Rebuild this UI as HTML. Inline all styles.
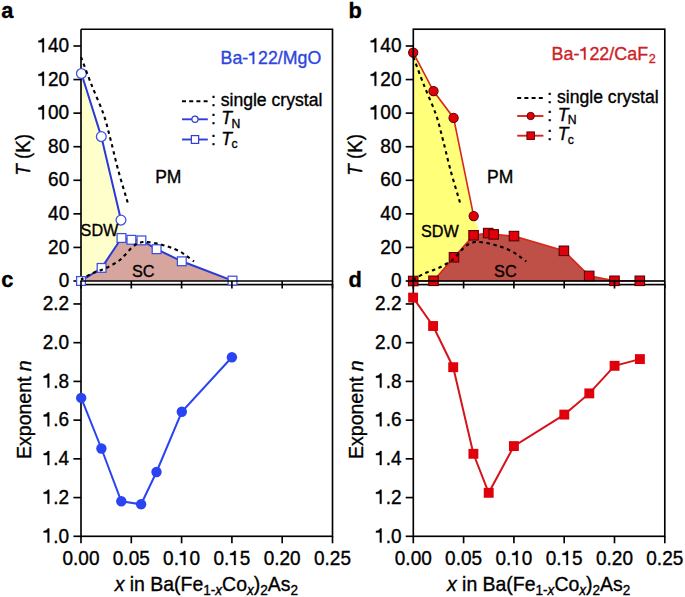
<!DOCTYPE html><html><head><meta charset="utf-8"><title>Phase diagram</title>
<style>html,body{margin:0;padding:0;background:#fff;}body{width:685px;height:597px;overflow:hidden;}svg{display:block;font-family:"Liberation Sans", sans-serif;}text{stroke:#000;stroke-width:0.35px;font-kerning:none;}</style></head><body>
<svg width="685" height="597" viewBox="0 0 685 597">
<rect width="685" height="597" fill="#fff"/>
<rect x="81" y="284.6" width="251.5" height="251.7" fill="none" stroke="#000" stroke-width="1.65"/>
<line x1="81" y1="536.3" x2="81" y2="543.3" stroke="#000" stroke-width="1.65"/>
<text transform="translate(62.51,564.9) scale(1,1.07)" font-size="19">0.00</text>
<line x1="131.3" y1="536.3" x2="131.3" y2="543.3" stroke="#000" stroke-width="1.65"/>
<text transform="translate(112.81,564.9) scale(1,1.07)" font-size="19">0.05</text>
<line x1="181.6" y1="536.3" x2="181.6" y2="543.3" stroke="#000" stroke-width="1.65"/>
<text transform="translate(163.11,564.9) scale(1,1.07)" font-size="19">0. 0</text>
<path transform="translate(178.96,564.9) scale(0.009277,-0.009927)" d="M515 0L696 0L696 1409L540 1409C480 1280 300 1175 95 1160L95 1000L515 1000Z" fill="#000" stroke="#000" stroke-width="0.35" vector-effect="non-scaling-stroke"/>
<line x1="231.9" y1="536.3" x2="231.9" y2="543.3" stroke="#000" stroke-width="1.65"/>
<text transform="translate(213.41,564.9) scale(1,1.07)" font-size="19">0. 5</text>
<path transform="translate(229.26,564.9) scale(0.009277,-0.009927)" d="M515 0L696 0L696 1409L540 1409C480 1280 300 1175 95 1160L95 1000L515 1000Z" fill="#000" stroke="#000" stroke-width="0.35" vector-effect="non-scaling-stroke"/>
<line x1="282.2" y1="536.3" x2="282.2" y2="543.3" stroke="#000" stroke-width="1.65"/>
<text transform="translate(263.71,564.9) scale(1,1.07)" font-size="19">0.20</text>
<line x1="332.5" y1="536.3" x2="332.5" y2="543.3" stroke="#000" stroke-width="1.65"/>
<text transform="translate(314.01,564.9) scale(1,1.07)" font-size="19">0.25</text>
<line x1="73.4" y1="536.3" x2="81" y2="536.3" stroke="#000" stroke-width="1.65"/>
<text transform="translate(42.79,542.5) scale(1,1.07)" font-size="19"> .0</text>
<path transform="translate(42.79,542.5) scale(0.009277,-0.009927)" d="M515 0L696 0L696 1409L540 1409C480 1280 300 1175 95 1160L95 1000L515 1000Z" fill="#000" stroke="#000" stroke-width="0.35" vector-effect="non-scaling-stroke"/>
<line x1="73.4" y1="497.58" x2="81" y2="497.58" stroke="#000" stroke-width="1.65"/>
<text transform="translate(42.79,503.78) scale(1,1.07)" font-size="19"> .2</text>
<path transform="translate(42.79,503.78) scale(0.009277,-0.009927)" d="M515 0L696 0L696 1409L540 1409C480 1280 300 1175 95 1160L95 1000L515 1000Z" fill="#000" stroke="#000" stroke-width="0.35" vector-effect="non-scaling-stroke"/>
<line x1="73.4" y1="458.85" x2="81" y2="458.85" stroke="#000" stroke-width="1.65"/>
<text transform="translate(42.79,465.05) scale(1,1.07)" font-size="19"> .4</text>
<path transform="translate(42.79,465.05) scale(0.009277,-0.009927)" d="M515 0L696 0L696 1409L540 1409C480 1280 300 1175 95 1160L95 1000L515 1000Z" fill="#000" stroke="#000" stroke-width="0.35" vector-effect="non-scaling-stroke"/>
<line x1="73.4" y1="420.13" x2="81" y2="420.13" stroke="#000" stroke-width="1.65"/>
<text transform="translate(42.79,426.33) scale(1,1.07)" font-size="19"> .6</text>
<path transform="translate(42.79,426.33) scale(0.009277,-0.009927)" d="M515 0L696 0L696 1409L540 1409C480 1280 300 1175 95 1160L95 1000L515 1000Z" fill="#000" stroke="#000" stroke-width="0.35" vector-effect="non-scaling-stroke"/>
<line x1="73.4" y1="381.41" x2="81" y2="381.41" stroke="#000" stroke-width="1.65"/>
<text transform="translate(42.79,387.61) scale(1,1.07)" font-size="19"> .8</text>
<path transform="translate(42.79,387.61) scale(0.009277,-0.009927)" d="M515 0L696 0L696 1409L540 1409C480 1280 300 1175 95 1160L95 1000L515 1000Z" fill="#000" stroke="#000" stroke-width="0.35" vector-effect="non-scaling-stroke"/>
<line x1="73.4" y1="342.68" x2="81" y2="342.68" stroke="#000" stroke-width="1.65"/>
<text transform="translate(42.79,348.88) scale(1,1.07)" font-size="19">2.0</text>
<line x1="73.4" y1="303.96" x2="81" y2="303.96" stroke="#000" stroke-width="1.65"/>
<text transform="translate(42.79,310.16) scale(1,1.07)" font-size="19">2.2</text>
<rect x="413.3" y="284.6" width="251.5" height="251.7" fill="none" stroke="#000" stroke-width="1.65"/>
<line x1="413.3" y1="536.3" x2="413.3" y2="543.3" stroke="#000" stroke-width="1.65"/>
<text transform="translate(394.81,564.9) scale(1,1.07)" font-size="19">0.00</text>
<line x1="463.6" y1="536.3" x2="463.6" y2="543.3" stroke="#000" stroke-width="1.65"/>
<text transform="translate(445.11,564.9) scale(1,1.07)" font-size="19">0.05</text>
<line x1="513.9" y1="536.3" x2="513.9" y2="543.3" stroke="#000" stroke-width="1.65"/>
<text transform="translate(495.41,564.9) scale(1,1.07)" font-size="19">0. 0</text>
<path transform="translate(511.26,564.9) scale(0.009277,-0.009927)" d="M515 0L696 0L696 1409L540 1409C480 1280 300 1175 95 1160L95 1000L515 1000Z" fill="#000" stroke="#000" stroke-width="0.35" vector-effect="non-scaling-stroke"/>
<line x1="564.2" y1="536.3" x2="564.2" y2="543.3" stroke="#000" stroke-width="1.65"/>
<text transform="translate(545.71,564.9) scale(1,1.07)" font-size="19">0. 5</text>
<path transform="translate(561.56,564.9) scale(0.009277,-0.009927)" d="M515 0L696 0L696 1409L540 1409C480 1280 300 1175 95 1160L95 1000L515 1000Z" fill="#000" stroke="#000" stroke-width="0.35" vector-effect="non-scaling-stroke"/>
<line x1="614.5" y1="536.3" x2="614.5" y2="543.3" stroke="#000" stroke-width="1.65"/>
<text transform="translate(596.01,564.9) scale(1,1.07)" font-size="19">0.20</text>
<line x1="664.8" y1="536.3" x2="664.8" y2="543.3" stroke="#000" stroke-width="1.65"/>
<text transform="translate(646.31,564.9) scale(1,1.07)" font-size="19">0.25</text>
<line x1="405.7" y1="536.3" x2="413.3" y2="536.3" stroke="#000" stroke-width="1.65"/>
<text transform="translate(375.09,542.5) scale(1,1.07)" font-size="19"> .0</text>
<path transform="translate(375.09,542.5) scale(0.009277,-0.009927)" d="M515 0L696 0L696 1409L540 1409C480 1280 300 1175 95 1160L95 1000L515 1000Z" fill="#000" stroke="#000" stroke-width="0.35" vector-effect="non-scaling-stroke"/>
<line x1="405.7" y1="497.58" x2="413.3" y2="497.58" stroke="#000" stroke-width="1.65"/>
<text transform="translate(375.09,503.78) scale(1,1.07)" font-size="19"> .2</text>
<path transform="translate(375.09,503.78) scale(0.009277,-0.009927)" d="M515 0L696 0L696 1409L540 1409C480 1280 300 1175 95 1160L95 1000L515 1000Z" fill="#000" stroke="#000" stroke-width="0.35" vector-effect="non-scaling-stroke"/>
<line x1="405.7" y1="458.85" x2="413.3" y2="458.85" stroke="#000" stroke-width="1.65"/>
<text transform="translate(375.09,465.05) scale(1,1.07)" font-size="19"> .4</text>
<path transform="translate(375.09,465.05) scale(0.009277,-0.009927)" d="M515 0L696 0L696 1409L540 1409C480 1280 300 1175 95 1160L95 1000L515 1000Z" fill="#000" stroke="#000" stroke-width="0.35" vector-effect="non-scaling-stroke"/>
<line x1="405.7" y1="420.13" x2="413.3" y2="420.13" stroke="#000" stroke-width="1.65"/>
<text transform="translate(375.09,426.33) scale(1,1.07)" font-size="19"> .6</text>
<path transform="translate(375.09,426.33) scale(0.009277,-0.009927)" d="M515 0L696 0L696 1409L540 1409C480 1280 300 1175 95 1160L95 1000L515 1000Z" fill="#000" stroke="#000" stroke-width="0.35" vector-effect="non-scaling-stroke"/>
<line x1="405.7" y1="381.41" x2="413.3" y2="381.41" stroke="#000" stroke-width="1.65"/>
<text transform="translate(375.09,387.61) scale(1,1.07)" font-size="19"> .8</text>
<path transform="translate(375.09,387.61) scale(0.009277,-0.009927)" d="M515 0L696 0L696 1409L540 1409C480 1280 300 1175 95 1160L95 1000L515 1000Z" fill="#000" stroke="#000" stroke-width="0.35" vector-effect="non-scaling-stroke"/>
<line x1="405.7" y1="342.68" x2="413.3" y2="342.68" stroke="#000" stroke-width="1.65"/>
<text transform="translate(375.09,348.88) scale(1,1.07)" font-size="19">2.0</text>
<line x1="405.7" y1="303.96" x2="413.3" y2="303.96" stroke="#000" stroke-width="1.65"/>
<text transform="translate(375.09,310.16) scale(1,1.07)" font-size="19">2.2</text>
<polyline points="81.2,397.9 101.4,448.5 121.3,501.3 141.1,504.3 156.5,472 181.8,411.8 231.9,357.2" fill="none" stroke="#2a44f2" stroke-width="2"/>
<circle cx="81.2" cy="397.9" r="5.2" fill="#2a44f2"/>
<circle cx="101.4" cy="448.5" r="5.2" fill="#2a44f2"/>
<circle cx="121.3" cy="501.3" r="5.2" fill="#2a44f2"/>
<circle cx="141.1" cy="504.3" r="5.2" fill="#2a44f2"/>
<circle cx="156.5" cy="472" r="5.2" fill="#2a44f2"/>
<circle cx="181.8" cy="411.8" r="5.2" fill="#2a44f2"/>
<circle cx="231.9" cy="357.2" r="5.2" fill="#2a44f2"/>
<polyline points="413.1,297.6 433.1,326 453.2,367.2 473.4,453.8 488.7,492.8 513.9,446.1 564.3,414.6 589.3,393.4 614.6,365.8 639.9,359.1" fill="none" stroke="#d4141c" stroke-width="2"/>
<rect x="408.15" y="292.65" width="9.9" height="9.9" fill="#e0000c"/>
<rect x="428.15" y="321.05" width="9.9" height="9.9" fill="#e0000c"/>
<rect x="448.25" y="362.25" width="9.9" height="9.9" fill="#e0000c"/>
<rect x="468.45" y="448.85" width="9.9" height="9.9" fill="#e0000c"/>
<rect x="483.75" y="487.85" width="9.9" height="9.9" fill="#e0000c"/>
<rect x="508.95" y="441.15" width="9.9" height="9.9" fill="#e0000c"/>
<rect x="559.35" y="409.65" width="9.9" height="9.9" fill="#e0000c"/>
<rect x="584.35" y="388.45" width="9.9" height="9.9" fill="#e0000c"/>
<rect x="609.65" y="360.85" width="9.9" height="9.9" fill="#e0000c"/>
<rect x="634.95" y="354.15" width="9.9" height="9.9" fill="#e0000c"/>
<polygon points="81,281 81,73.5 81.4,73.5 101.3,136.6 121,220.1 121.5,238 101.6,267.9 81,281" fill="#ffffcc"/>
<polygon points="81,281 101.6,267.9 121.5,238 131.4,239.8 141.4,240.4 156.6,249.2 181.8,261.3 232.5,280.6 232.5,281" fill="#d5a59e"/>
<line x1="81" y1="29.2" x2="81" y2="281" stroke="#000" stroke-width="1.65"/>
<line x1="73.4" y1="281" x2="81" y2="281" stroke="#000" stroke-width="1.65"/>
<text transform="translate(58.63,287.2) scale(1,1.07)" font-size="19">0</text>
<line x1="73.4" y1="247.43" x2="81" y2="247.43" stroke="#000" stroke-width="1.65"/>
<text transform="translate(48.07,253.63) scale(1,1.07)" font-size="19">20</text>
<line x1="73.4" y1="213.85" x2="81" y2="213.85" stroke="#000" stroke-width="1.65"/>
<text transform="translate(48.07,220.05) scale(1,1.07)" font-size="19">40</text>
<line x1="73.4" y1="180.28" x2="81" y2="180.28" stroke="#000" stroke-width="1.65"/>
<text transform="translate(48.07,186.48) scale(1,1.07)" font-size="19">60</text>
<line x1="73.4" y1="146.71" x2="81" y2="146.71" stroke="#000" stroke-width="1.65"/>
<text transform="translate(48.07,152.91) scale(1,1.07)" font-size="19">80</text>
<line x1="73.4" y1="113.13" x2="81" y2="113.13" stroke="#000" stroke-width="1.65"/>
<text transform="translate(37.5,119.33) scale(1,1.07)" font-size="19"> 00</text>
<path transform="translate(37.5,119.33) scale(0.009277,-0.009927)" d="M515 0L696 0L696 1409L540 1409C480 1280 300 1175 95 1160L95 1000L515 1000Z" fill="#000" stroke="#000" stroke-width="0.35" vector-effect="non-scaling-stroke"/>
<line x1="73.4" y1="79.56" x2="81" y2="79.56" stroke="#000" stroke-width="1.65"/>
<text transform="translate(37.5,85.76) scale(1,1.07)" font-size="19"> 20</text>
<path transform="translate(37.5,85.76) scale(0.009277,-0.009927)" d="M515 0L696 0L696 1409L540 1409C480 1280 300 1175 95 1160L95 1000L515 1000Z" fill="#000" stroke="#000" stroke-width="0.35" vector-effect="non-scaling-stroke"/>
<line x1="73.4" y1="45.99" x2="81" y2="45.99" stroke="#000" stroke-width="1.65"/>
<text transform="translate(37.5,52.19) scale(1,1.07)" font-size="19"> 40</text>
<path transform="translate(37.5,52.19) scale(0.009277,-0.009927)" d="M515 0L696 0L696 1409L540 1409C480 1280 300 1175 95 1160L95 1000L515 1000Z" fill="#000" stroke="#000" stroke-width="0.35" vector-effect="non-scaling-stroke"/>
<polyline points="81.4,73.5 101.3,136.6 121,220.1" fill="none" stroke="#2a3ad8" stroke-width="2"/>
<polyline points="81,281 101.6,267.9 121.5,238 131.4,239.8 141.4,240.4 156.6,249.2 181.8,261.3 232.5,280.6" fill="none" stroke="#2a3ad8" stroke-width="2"/>
<circle cx="81.4" cy="73.5" r="4.9" fill="#fff" stroke="#3d4fe0" stroke-width="1.25"/>
<circle cx="101.3" cy="136.6" r="4.9" fill="#fff" stroke="#3d4fe0" stroke-width="1.25"/>
<circle cx="121" cy="220.1" r="4.9" fill="#fff" stroke="#3d4fe0" stroke-width="1.25"/>
<rect x="76.6" y="276.6" width="8.8" height="8.8" fill="#fff" stroke="#3d4fe0" stroke-width="1.25"/>
<rect x="97.2" y="263.5" width="8.8" height="8.8" fill="#fff" stroke="#3d4fe0" stroke-width="1.25"/>
<rect x="117.1" y="233.6" width="8.8" height="8.8" fill="#fff" stroke="#3d4fe0" stroke-width="1.25"/>
<rect x="127" y="235.4" width="8.8" height="8.8" fill="#fff" stroke="#3d4fe0" stroke-width="1.25"/>
<rect x="137" y="236" width="8.8" height="8.8" fill="#fff" stroke="#3d4fe0" stroke-width="1.25"/>
<rect x="152.2" y="244.8" width="8.8" height="8.8" fill="#fff" stroke="#3d4fe0" stroke-width="1.25"/>
<rect x="177.4" y="256.9" width="8.8" height="8.8" fill="#fff" stroke="#3d4fe0" stroke-width="1.25"/>
<rect x="228.1" y="276.2" width="8.8" height="8.8" fill="#fff" stroke="#3d4fe0" stroke-width="1.25"/>
<path d="M81,56.9 C82.73,61.49 87.62,74.92 91.36,84.43 C95.1,93.94 100.3,105.05 103.43,113.97 C106.57,122.9 107.71,128.61 110.17,137.98 C112.64,147.35 115.3,159.46 118.22,170.21 C121.14,180.95 126.1,197.07 127.68,202.44" fill="none" stroke="#000" stroke-width="2.1" stroke-dasharray="3.5 3.62" stroke-dashoffset="-0.2"/>
<path d="M81,279.66 C82.84,278.62 88.58,275.1 92.07,273.45 C95.55,271.8 98.82,271.04 101.92,269.75 C105.03,268.47 107.79,267.26 110.68,265.72 C113.56,264.19 116.76,262.39 119.23,260.52 C121.69,258.65 123.39,256.6 125.47,254.48 C127.54,252.35 129.79,249.53 131.7,247.76 C133.61,246 135.07,244.85 136.93,243.9 C138.79,242.95 140.79,242.33 142.87,242.05 C144.95,241.78 147.03,241.97 149.41,242.22 C151.79,242.47 154.71,243.03 157.15,243.57 C159.6,244.1 161.77,244.71 164.1,245.41 C166.43,246.11 168.51,246.76 171.14,247.76 C173.77,248.77 177.26,250.06 179.89,251.46 C182.52,252.85 184.58,254.48 186.93,256.16 C189.28,257.83 192.8,260.63 193.97,261.53" fill="none" stroke="#000" stroke-width="2.1" stroke-dasharray="3.5 3.62" stroke-dashoffset="-6.45"/>
<polyline points="81,29.2 332.5,29.2 332.5,281 80.25,281" fill="none" stroke="#000" stroke-width="1.65"/>
<line x1="81" y1="281" x2="81" y2="288.5" stroke="#000" stroke-width="1.65"/>
<line x1="131.3" y1="281" x2="131.3" y2="288.5" stroke="#000" stroke-width="1.65"/>
<line x1="181.6" y1="281" x2="181.6" y2="288.5" stroke="#000" stroke-width="1.65"/>
<line x1="231.9" y1="281" x2="231.9" y2="288.5" stroke="#000" stroke-width="1.65"/>
<line x1="282.2" y1="281" x2="282.2" y2="288.5" stroke="#000" stroke-width="1.65"/>
<line x1="332.5" y1="281" x2="332.5" y2="288.5" stroke="#000" stroke-width="1.65"/>
<polygon points="413.3,281 413.3,52.6 413.2,52.6 433.5,91.1 453.6,117.9 473.7,216.1 479,231 473.6,235.3 454,257.3 433.5,280.8 413.2,281" fill="#ffff7a"/>
<polygon points="413.2,281 433.5,280.8 454,257.3 473.6,235.3 488.2,233.1 493.7,234.4 514,236.1 563.9,250.8 589.2,275.9 614.5,280.8 639.8,280.8 639.8,281" fill="#be5048"/>
<polyline points="413.2,52.6 433.5,91.1 453.6,117.9 473.7,216.1" fill="none" stroke="#d9261c" stroke-width="1.6"/>
<polyline points="413.2,281 433.5,280.8 454,257.3 473.6,235.3 488.2,233.1 493.7,234.4 514,236.1 563.9,250.8 589.2,275.9 614.5,280.8 639.8,280.8" fill="none" stroke="#d9261c" stroke-width="1.6"/>
<circle cx="413.2" cy="52.6" r="4.6" fill="#e0000c" stroke="#5a0000" stroke-width="1.1"/>
<circle cx="433.5" cy="91.1" r="4.6" fill="#e0000c" stroke="#5a0000" stroke-width="1.1"/>
<circle cx="453.6" cy="117.9" r="4.6" fill="#e0000c" stroke="#5a0000" stroke-width="1.1"/>
<circle cx="473.7" cy="216.1" r="4.6" fill="#e0000c" stroke="#5a0000" stroke-width="1.1"/>
<rect x="408.45" y="276.25" width="9.5" height="9.5" fill="#e0000c" stroke="#5a0000" stroke-width="1.1"/>
<rect x="428.75" y="276.05" width="9.5" height="9.5" fill="#e0000c" stroke="#5a0000" stroke-width="1.1"/>
<rect x="449.25" y="252.55" width="9.5" height="9.5" fill="#e0000c" stroke="#5a0000" stroke-width="1.1"/>
<rect x="468.85" y="230.55" width="9.5" height="9.5" fill="#e0000c" stroke="#5a0000" stroke-width="1.1"/>
<rect x="483.45" y="228.35" width="9.5" height="9.5" fill="#e0000c" stroke="#5a0000" stroke-width="1.1"/>
<rect x="488.95" y="229.65" width="9.5" height="9.5" fill="#e0000c" stroke="#5a0000" stroke-width="1.1"/>
<rect x="509.25" y="231.35" width="9.5" height="9.5" fill="#e0000c" stroke="#5a0000" stroke-width="1.1"/>
<rect x="559.15" y="246.05" width="9.5" height="9.5" fill="#e0000c" stroke="#5a0000" stroke-width="1.1"/>
<rect x="584.45" y="271.15" width="9.5" height="9.5" fill="#e0000c" stroke="#5a0000" stroke-width="1.1"/>
<rect x="609.75" y="276.05" width="9.5" height="9.5" fill="#e0000c" stroke="#5a0000" stroke-width="1.1"/>
<rect x="635.05" y="276.05" width="9.5" height="9.5" fill="#e0000c" stroke="#5a0000" stroke-width="1.1"/>
<path d="M413.3,56.9 C415.03,61.49 419.92,74.92 423.66,84.43 C427.4,93.94 432.6,105.05 435.73,113.97 C438.87,122.9 440.01,128.61 442.47,137.98 C444.94,147.35 447.6,159.46 450.52,170.21 C453.44,180.95 458.4,197.07 459.98,202.44" fill="none" stroke="#000" stroke-width="2.1" stroke-dasharray="3.5 3.62" stroke-dashoffset="-0.2"/>
<path d="M413.3,279.66 C415.14,278.62 420.88,275.1 424.37,273.45 C427.85,271.8 431.12,271.04 434.22,269.75 C437.33,268.47 440.09,267.26 442.98,265.72 C445.86,264.19 449.06,262.39 451.53,260.52 C453.99,258.65 455.69,256.6 457.77,254.48 C459.84,252.35 462.09,249.53 464,247.76 C465.91,246 467.37,244.85 469.23,243.9 C471.09,242.95 473.09,242.33 475.17,242.05 C477.25,241.78 479.33,241.97 481.71,242.22 C484.09,242.47 487.01,243.03 489.45,243.57 C491.9,244.1 494.07,244.71 496.4,245.41 C498.73,246.11 500.81,246.76 503.44,247.76 C506.07,248.77 509.56,250.06 512.19,251.46 C514.82,252.85 516.88,254.48 519.23,256.16 C521.58,257.83 525.1,260.63 526.27,261.53" fill="none" stroke="#000" stroke-width="2.1" stroke-dasharray="3.5 3.62" stroke-dashoffset="-6.45"/>
<rect x="413.3" y="29.2" width="251.5" height="251.8" fill="none" stroke="#000" stroke-width="1.65"/>
<line x1="413.3" y1="281" x2="413.3" y2="288.5" stroke="#000" stroke-width="1.65"/>
<line x1="463.6" y1="281" x2="463.6" y2="288.5" stroke="#000" stroke-width="1.65"/>
<line x1="513.9" y1="281" x2="513.9" y2="288.5" stroke="#000" stroke-width="1.65"/>
<line x1="564.2" y1="281" x2="564.2" y2="288.5" stroke="#000" stroke-width="1.65"/>
<line x1="614.5" y1="281" x2="614.5" y2="288.5" stroke="#000" stroke-width="1.65"/>
<line x1="664.8" y1="281" x2="664.8" y2="288.5" stroke="#000" stroke-width="1.65"/>
<line x1="405.7" y1="281" x2="413.3" y2="281" stroke="#000" stroke-width="1.65"/>
<text transform="translate(390.93,287.2) scale(1,1.07)" font-size="19">0</text>
<line x1="405.7" y1="247.43" x2="413.3" y2="247.43" stroke="#000" stroke-width="1.65"/>
<text transform="translate(380.37,253.63) scale(1,1.07)" font-size="19">20</text>
<line x1="405.7" y1="213.85" x2="413.3" y2="213.85" stroke="#000" stroke-width="1.65"/>
<text transform="translate(380.37,220.05) scale(1,1.07)" font-size="19">40</text>
<line x1="405.7" y1="180.28" x2="413.3" y2="180.28" stroke="#000" stroke-width="1.65"/>
<text transform="translate(380.37,186.48) scale(1,1.07)" font-size="19">60</text>
<line x1="405.7" y1="146.71" x2="413.3" y2="146.71" stroke="#000" stroke-width="1.65"/>
<text transform="translate(380.37,152.91) scale(1,1.07)" font-size="19">80</text>
<line x1="405.7" y1="113.13" x2="413.3" y2="113.13" stroke="#000" stroke-width="1.65"/>
<text transform="translate(369.8,119.33) scale(1,1.07)" font-size="19"> 00</text>
<path transform="translate(369.8,119.33) scale(0.009277,-0.009927)" d="M515 0L696 0L696 1409L540 1409C480 1280 300 1175 95 1160L95 1000L515 1000Z" fill="#000" stroke="#000" stroke-width="0.35" vector-effect="non-scaling-stroke"/>
<line x1="405.7" y1="79.56" x2="413.3" y2="79.56" stroke="#000" stroke-width="1.65"/>
<text transform="translate(369.8,85.76) scale(1,1.07)" font-size="19"> 20</text>
<path transform="translate(369.8,85.76) scale(0.009277,-0.009927)" d="M515 0L696 0L696 1409L540 1409C480 1280 300 1175 95 1160L95 1000L515 1000Z" fill="#000" stroke="#000" stroke-width="0.35" vector-effect="non-scaling-stroke"/>
<line x1="405.7" y1="45.99" x2="413.3" y2="45.99" stroke="#000" stroke-width="1.65"/>
<text transform="translate(369.8,52.19) scale(1,1.07)" font-size="19"> 40</text>
<path transform="translate(369.8,52.19) scale(0.009277,-0.009927)" d="M515 0L696 0L696 1409L540 1409C480 1280 300 1175 95 1160L95 1000L515 1000Z" fill="#000" stroke="#000" stroke-width="0.35" vector-effect="non-scaling-stroke"/>
<text transform="translate(30.1,154.9) rotate(-90) scale(1,1.09)" text-anchor="middle" font-size="18.7"><tspan font-style="italic">T</tspan> (K)</text>
<text transform="translate(30.6,409.6) rotate(-90) scale(1,1.05)" text-anchor="middle" font-size="19.5">Exponent <tspan font-style="italic">n</tspan></text>
<text transform="translate(206.35,591.3) scale(1,1.04)" text-anchor="middle" font-size="19.45"><tspan font-style="italic">x</tspan> in Ba(Fe<tspan font-size="13.6" dy="3.2">1-</tspan><tspan font-size="13.6" font-style="italic">x</tspan><tspan dy="-3.2">Co</tspan><tspan font-size="13.6" font-style="italic" dy="3.2">x</tspan><tspan dy="-3.2">)</tspan><tspan font-size="13.6" dy="3.2">2</tspan><tspan dy="-3.2">As</tspan><tspan font-size="13.6" dy="3.2">2</tspan></text>
<text transform="translate(362.4,154.9) rotate(-90) scale(1,1.09)" text-anchor="middle" font-size="18.7"><tspan font-style="italic">T</tspan> (K)</text>
<text transform="translate(362.9,409.6) rotate(-90) scale(1,1.05)" text-anchor="middle" font-size="19.5">Exponent <tspan font-style="italic">n</tspan></text>
<text transform="translate(538.65,591.3) scale(1,1.04)" text-anchor="middle" font-size="19.45"><tspan font-style="italic">x</tspan> in Ba(Fe<tspan font-size="13.6" dy="3.2">1-</tspan><tspan font-size="13.6" font-style="italic">x</tspan><tspan dy="-3.2">Co</tspan><tspan font-size="13.6" font-style="italic" dy="3.2">x</tspan><tspan dy="-3.2">)</tspan><tspan font-size="13.6" dy="3.2">2</tspan><tspan dy="-3.2">As</tspan><tspan font-size="13.6" dy="3.2">2</tspan></text>
<text x="1.2" y="18.0" font-size="21.8" font-weight="bold">a</text>
<text x="348.6" y="18.0" font-size="21.8" font-weight="bold">b</text>
<text x="1.2" y="287.0" font-size="21.8" font-weight="bold">c</text>
<text x="348.5" y="286.7" font-size="21.8" font-weight="bold">d</text>
<text transform="translate(155.2,182.9) scale(1,1.03)" font-size="17.5">PM</text>
<text transform="translate(487,182.9) scale(1,1.03)" font-size="17.5">PM</text>
<text transform="translate(80.6,235.8) scale(1,1.04)" font-size="16.2">SDW</text>
<text transform="translate(420.9,237.4) scale(1,1.04)" font-size="16.2">SDW</text>
<text transform="translate(132,276.7)" font-size="16.2">SC</text>
<text transform="translate(494.1,276.8)" font-size="16.2">SC</text>
<text transform="translate(220.6,64)" font-size="17.75" style="fill:#2e46dc;stroke:#2e46dc">Ba- 22/MgO</text>
<path transform="translate(248.22,64) scale(0.008667,-0.008667)" d="M515 0L696 0L696 1409L540 1409C480 1280 300 1175 95 1160L95 1000L515 1000Z" fill="#2e46dc" stroke="#2e46dc" stroke-width="0.35" vector-effect="non-scaling-stroke"/>
<text transform="translate(551.6,59.6)" font-size="17.9" style="fill:#cc1f26;stroke:#cc1f26">Ba- 22/CaF<tspan font-size="12.6" dx="0.6" dy="3.8">2</tspan></text>
<path transform="translate(579.46,59.6) scale(0.008740,-0.008740)" d="M515 0L696 0L696 1409L540 1409C480 1280 300 1175 95 1160L95 1000L515 1000Z" fill="#cc1f26" stroke="#cc1f26" stroke-width="0.35" vector-effect="non-scaling-stroke"/>
<line x1="182" y1="101.3" x2="207.8" y2="101.3" stroke="#000" stroke-width="2" stroke-dasharray="4 3.2"/>
<line x1="182" y1="119.3" x2="207.8" y2="119.3" stroke="#2f3fd4" stroke-width="1.9"/>
<line x1="182" y1="139.5" x2="207.8" y2="139.5" stroke="#2f3fd4" stroke-width="1.9"/>
<circle cx="195" cy="119.3" r="3.1" fill="#fff" stroke="#2f3fd4" stroke-width="1.2"/>
<rect x="191.35" y="135.6" width="7.3" height="7.8" fill="#fff" stroke="#2f3fd4" stroke-width="1.2"/>
<text transform="translate(210.9,106)" font-size="17.6">: single crystal</text>
<text transform="translate(210.9,124.1)" font-size="17.6">: <tspan font-style="italic" dx="0.7">T</tspan><tspan font-size="12.2" dx="-0.6" dy="3.6">N</tspan></text>
<text transform="translate(210.9,144.7)" font-size="17.6">: <tspan font-style="italic" dx="0.7">T</tspan><tspan font-size="12.2" dx="-0.6" dy="3.4">c</tspan></text>
<line x1="517.2" y1="97.9" x2="543.4" y2="97.9" stroke="#000" stroke-width="2" stroke-dasharray="4 3.2"/>
<line x1="517.2" y1="116" x2="543.4" y2="116" stroke="#d9261c" stroke-width="1.9"/>
<line x1="517.2" y1="135.7" x2="543.4" y2="135.7" stroke="#d9261c" stroke-width="1.9"/>
<circle cx="530.7" cy="116" r="3.7" fill="#e0000c" stroke="#5a0000" stroke-width="0.9"/>
<rect x="526.9" y="131.9" width="7.6" height="7.6" fill="#e0000c" stroke="#5a0000" stroke-width="0.9"/>
<text transform="translate(547.2,102.7)" font-size="17.6">: single crystal</text>
<text transform="translate(547.2,120.6)" font-size="17.6">: <tspan font-style="italic" dx="0.7">T</tspan><tspan font-size="12.2" dx="-0.6" dy="3.6">N</tspan></text>
<text transform="translate(547.2,140.2)" font-size="17.6">: <tspan font-style="italic" dx="0.7">T</tspan><tspan font-size="12.2" dx="-0.6" dy="3.4">c</tspan></text>
</svg></body></html>
